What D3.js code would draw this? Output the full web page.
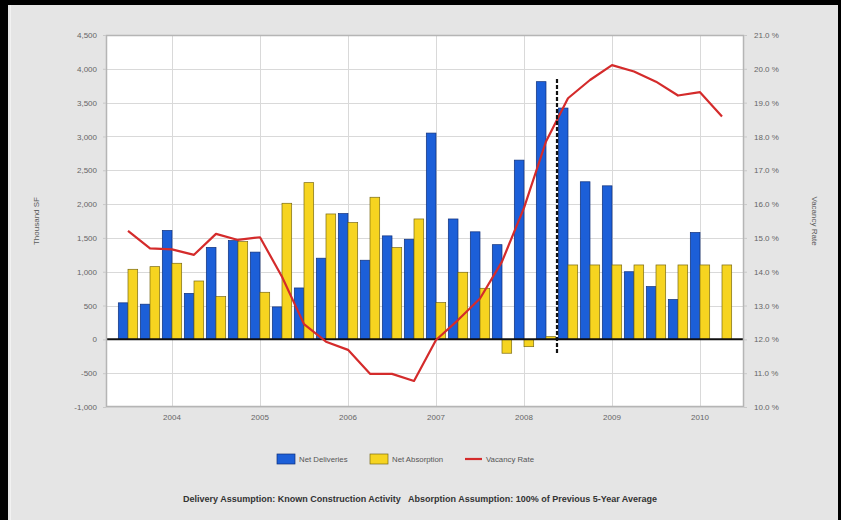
<!DOCTYPE html>
<html>
<head>
<meta charset="utf-8">
<script src="https://cdn.jsdelivr.net/npm/d3@7/dist/d3.min.js"></script>
<style>
  html, body { margin: 0; padding: 0; background: #000; }
  svg { display: block; }
  text { font-family: "Liberation Sans", Arial, sans-serif; }
</style>
</head>
<body>
<svg id="chart" width="841" height="520"></svg>
<script>
// Quarterly categories (Q1 of each year carries the year tick)
const quarters = [
  "2003 Q3", "2003 Q4",
  "2004 Q1", "2004 Q2", "2004 Q3", "2004 Q4",
  "2005 Q1", "2005 Q2", "2005 Q3", "2005 Q4",
  "2006 Q1", "2006 Q2", "2006 Q3", "2006 Q4",
  "2007 Q1", "2007 Q2", "2007 Q3", "2007 Q4",
  "2008 Q1", "2008 Q2", "2008 Q3", "2008 Q4",
  "2009 Q1", "2009 Q2", "2009 Q3", "2009 Q4",
  "2010 Q1", "2010 Q2"
];

// Thousand SF
const netDeliveries = [
  540, 520,
  1610, 680, 1360, 1460,
  1290, 480, 760, 1200,
  1860, 1170, 1530, 1480,
  3050, 1780, 1590, 1400,
  2650, 3810, 3420, 2330,
  2270, 1000, 780, 590,
  1580, 0
];
const netAbsorption = [
  1036, 1075,
  1125, 863, 632, 1445,
  696, 2012, 2317, 1854,
  1726, 2101, 1356, 1780,
  543, 992, 755, -205,
  -108, 40, 1100, 1100,
  1100, 1100, 1100, 1100,
  1100, 1100
];
// Percent
const vacancyRate = [
  15.21, 14.69,
  14.66, 14.50, 15.12, 14.94,
  15.02, 13.85, 12.45, 11.93,
  11.69, 10.98, 10.98, 10.77,
  11.98, 12.57, 13.21, 14.30,
  15.89, 17.85, 19.13, 19.67,
  20.11, 19.92, 19.62, 19.21,
  19.31, 18.59
];

const leftTicks = [-1000, -500, 0, 500, 1000, 1500, 2000, 2500, 3000, 3500, 4000, 4500];
const rightTicks = [10, 11, 12, 13, 14, 15, 16, 17, 18, 19, 20, 21];
const lastActual = "2008 Q2";   // forecast divider sits after this quarter
const seriesNames = ["Net Deliveries", "Net Absorption", "Vacancy Rate"];
const footnote = "Delivery Assumption: Known Construction Activity   Absorption Assumption: 100% of Previous 5-Year Average";

const plot = { left: 106, right: 744, top: 35, bottom: 407 };
const colors = { del: "#1c5fd8", delEdge: "#10307a", abs: "#f6d420", absEdge: "#7a6a14", rate: "#d42b2b" };

const svg = d3.select("#chart");

// panel
svg.append("rect").attr("x", 8).attr("y", 5).attr("width", 830).attr("height", 515).attr("fill", "#e5e5e5");
svg.append("line").attr("x1", 10.5).attr("x2", 10.5).attr("y1", 5).attr("y2", 520).attr("stroke", "#f2f2f2").attr("stroke-width", 1);

const data = quarters.map((q, i) => ({ q, del: netDeliveries[i], abs: netAbsorption[i], rate: vacancyRate[i] }));

const pi = 0.12;
const x = d3.scaleBand().domain(quarters).range([plot.left, plot.right])
  .paddingInner(pi).paddingOuter((1 + pi) / 2);
const xs = d3.scaleBand().domain(["del", "abs"]).range([0, x.bandwidth()]);
const xc = q => x(q) + x.bandwidth() / 2;

const y = d3.scaleLinear().domain([-1000, 4500]).range([plot.bottom, plot.top]);
const yr = d3.scaleLinear().domain([10, 21]).range([plot.bottom, plot.top]);

// plot background
svg.append("rect").attr("x", plot.left).attr("y", plot.top)
  .attr("width", plot.right - plot.left).attr("height", plot.bottom - plot.top)
  .attr("fill", "#ffffff");

const yearTicks = quarters.filter(q => q.endsWith("Q1"));

// grid
const grid = svg.append("g").attr("stroke", "#d9d9d9").attr("stroke-width", 1);
grid.selectAll("line.h").data(leftTicks).join("line")
  .attr("x1", plot.left).attr("x2", plot.right)
  .attr("y1", d => Math.round(y(d)) + 0.5).attr("y2", d => Math.round(y(d)) + 0.5);
grid.selectAll("line.v").data(yearTicks).join("line")
  .attr("y1", plot.top).attr("y2", plot.bottom)
  .attr("x1", d => Math.round(xc(d)) + 0.5).attr("x2", d => Math.round(xc(d)) + 0.5);

// bars
const bars = svg.append("g");
bars.selectAll("rect.del").data(data).join("rect")
  .attr("x", d => x(d.q) + xs("del"))
  .attr("width", xs.bandwidth())
  .attr("y", d => y(Math.max(0, d.del)))
  .attr("height", d => Math.abs(y(d.del) - y(0)))
  .attr("fill", colors.del).attr("stroke", colors.delEdge).attr("stroke-width", 0.7);
bars.selectAll("rect.abs").data(data).join("rect")
  .attr("x", d => x(d.q) + xs("abs"))
  .attr("width", xs.bandwidth())
  .attr("y", d => y(Math.max(0, d.abs)))
  .attr("height", d => Math.abs(y(d.abs) - y(0)))
  .attr("fill", colors.abs).attr("stroke", colors.absEdge).attr("stroke-width", 0.7);

// zero line
svg.append("line").attr("x1", plot.left).attr("x2", plot.right)
  .attr("y1", y(0)).attr("y2", y(0)).attr("stroke", "#111").attr("stroke-width", 2);

// vacancy line
const line = d3.line().x(d => xc(d.q)).y(d => yr(d.rate));
svg.append("path").datum(data).attr("d", line)
  .attr("fill", "none").attr("stroke", colors.rate).attr("stroke-width", 2.2)
  .attr("stroke-linejoin", "round");

// forecast divider
const iLast = quarters.indexOf(lastActual);
const divX = (xc(quarters[iLast]) + xc(quarters[iLast + 1])) / 2;
svg.append("line").attr("x1", divX).attr("x2", divX)
  .attr("y1", y(3850)).attr("y2", y(-210))
  .attr("stroke", "#111").attr("stroke-width", 2.2).attr("stroke-dasharray", "4,2");

// plot frame
svg.append("rect").attr("x", plot.left + 0.5).attr("y", plot.top + 0.5)
  .attr("width", plot.right - plot.left - 1).attr("height", plot.bottom - plot.top - 1)
  .attr("fill", "none").attr("stroke", "#b5b5b5").attr("stroke-width", 1.5);

// axes
const minusFmt = d3.formatLocale({ decimal: ".", thousands: ",", grouping: [3], currency: ["$", ""], minus: "-" });
const fmtL = minusFmt.format(",");
const axisL = d3.axisLeft(y).tickValues(leftTicks).tickFormat(fmtL).tickSize(3).tickPadding(6);
const axisR = d3.axisRight(yr).tickValues(rightTicks).tickFormat(d => d3.format(".1f")(d) + " %").tickSize(3).tickPadding(7);
const axisB = d3.axisBottom(x).tickValues(yearTicks).tickFormat(q => q.slice(0, 4)).tickSize(0).tickPadding(7);

function styleAxis(g) {
  g.select(".domain").remove();
  g.selectAll(".tick line").attr("stroke", "#c8c8c8");
  g.selectAll(".tick text").attr("fill", "#666").attr("font-size", 8)
    .attr("font-family", "'Liberation Sans', Arial, sans-serif");
}
svg.append("g").attr("transform", `translate(${plot.left},0)`).call(axisL).call(styleAxis);
svg.append("g").attr("transform", `translate(${plot.right},0)`).call(axisR).call(styleAxis);
svg.append("g").attr("transform", `translate(0,${plot.bottom})`).call(axisB).call(styleAxis);

// axis titles
svg.append("text").attr("transform", `translate(39,${(plot.top + plot.bottom) / 2}) rotate(-90)`)
  .attr("text-anchor", "middle").attr("font-size", 8).attr("fill", "#5a5a5a").text("Thousand SF");
svg.append("text").attr("transform", `translate(812,${(plot.top + plot.bottom) / 2}) rotate(90)`)
  .attr("text-anchor", "middle").attr("font-size", 8).attr("fill", "#5a5a5a").text("Vacancy Rate");

// legend
const lg = svg.append("g").attr("font-size", 7.8).attr("fill", "#555");
const legendY = 459;
lg.append("rect").attr("x", 277).attr("y", legendY - 5).attr("width", 18).attr("height", 10)
  .attr("fill", colors.del).attr("stroke", colors.delEdge).attr("stroke-width", 0.7);
lg.append("text").attr("x", 299).attr("y", legendY + 3).text(seriesNames[0]);
lg.append("rect").attr("x", 370).attr("y", legendY - 5).attr("width", 18).attr("height", 10)
  .attr("fill", colors.abs).attr("stroke", colors.absEdge).attr("stroke-width", 0.7);
lg.append("text").attr("x", 392).attr("y", legendY + 3).text(seriesNames[1]);
lg.append("line").attr("x1", 465).attr("x2", 482).attr("y1", legendY).attr("y2", legendY)
  .attr("stroke", colors.rate).attr("stroke-width", 2.2);
lg.append("text").attr("x", 486).attr("y", legendY + 3).text(seriesNames[2]);

// footnote
svg.append("text").attr("x", 420).attr("y", 502).attr("text-anchor", "middle")
  .attr("font-size", 9).attr("font-weight", "bold").attr("fill", "#333")
  .style("white-space", "pre").text(footnote);
</script>
</body>
</html>
